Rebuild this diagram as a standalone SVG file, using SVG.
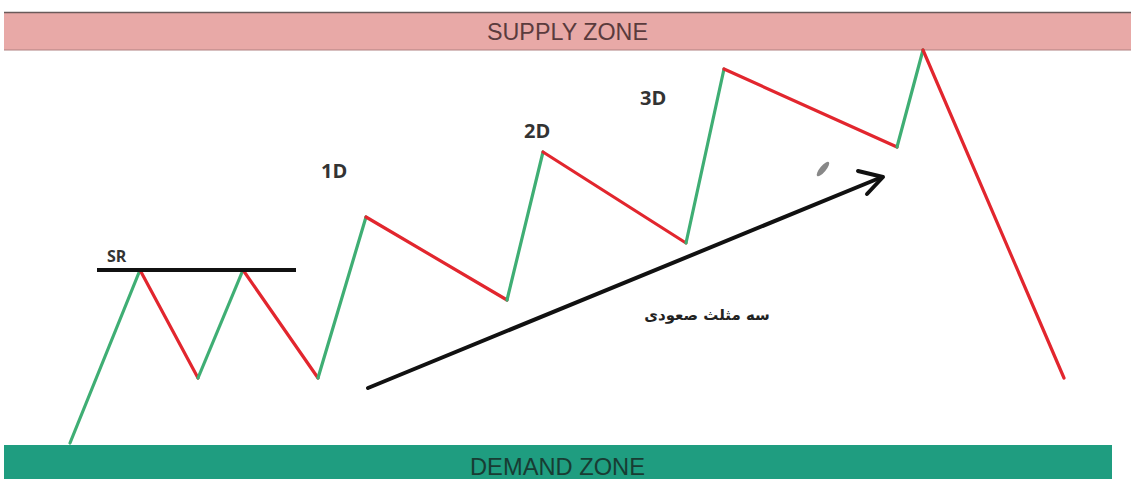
<svg xmlns="http://www.w3.org/2000/svg" width="1131" height="479" viewBox="0 0 1131 479">
<defs>
<style>
.up{stroke:#3fae74;stroke-width:3.2;fill:none;stroke-linecap:round}
.dn{stroke:#e2262e;stroke-width:3.2;fill:none;stroke-linecap:round}
.lbl{font-family:"Open Sans","Liberation Sans",Arial,sans-serif;font-weight:bold;fill:#333}
.zone{font-family:"Liberation Sans",Arial,sans-serif;font-size:23px}
</style>
</defs>
<rect width="1131" height="479" fill="#ffffff"/>
<g id="supply-zone">
<rect x="4" y="12" width="1127" height="38" fill="#e8a9a7"/>
<line x1="4" y1="12.5" x2="1131" y2="12.5" stroke="#6a5a5a" stroke-width="1.5"/>
<line x1="4" y1="50" x2="1131" y2="50" stroke="#b08080" stroke-width="1"/>
<text class="zone" x="487" y="40" textLength="161" lengthAdjust="spacingAndGlyphs" fill="#5a3b3d">SUPPLY ZONE</text>
</g>
<g id="demand-zone">
<rect x="4" y="445" width="1108" height="34" fill="#1f9d80"/>
<text class="zone" x="470" y="475" textLength="175" lengthAdjust="spacingAndGlyphs" fill="#183c33">DEMAND ZONE</text>
</g>
<g id="price-path">
<line class="up" x1="70" y1="443" x2="140" y2="270"/>
<line class="dn" x1="140" y1="270" x2="198" y2="378"/>
<line class="up" x1="198" y1="378" x2="243" y2="270"/>
<line class="dn" x1="243" y1="270" x2="318" y2="378"/>
<line class="up" x1="318" y1="378" x2="366" y2="217"/>
<line class="dn" x1="366" y1="217" x2="507" y2="300"/>
<line class="up" x1="507" y1="300" x2="543" y2="152"/>
<line class="dn" x1="543" y1="152" x2="686" y2="243"/>
<line class="up" x1="686" y1="243" x2="724" y2="69"/>
<line class="dn" x1="724" y1="69" x2="897" y2="147"/>
<line class="up" x1="897" y1="147" x2="923" y2="50"/>
<line class="dn" x1="923" y1="50" x2="1064" y2="378"/>
</g>
<g id="sr">
<line x1="97" y1="270" x2="296" y2="270" stroke="#111" stroke-width="4"/>
<text class="lbl" x="107" y="262" font-size="16">SR</text>
</g>
<g id="labels">
<text class="lbl" x="321" y="178" font-size="20">1D</text>
<text class="lbl" x="524" y="138" font-size="20">2D</text>
<text class="lbl" x="640" y="105" font-size="20">3D</text>
</g>
<g id="connectors">
<line x1="368" y1="388" x2="882" y2="177" stroke="#111" stroke-width="4" stroke-linecap="round"/>
<polyline points="858,171 883,177 867,194" fill="none" stroke="#111" stroke-width="4" stroke-linecap="round" stroke-linejoin="round"/>
</g>
<g id="caption">
<text x="707" y="320" text-anchor="middle" font-family="'DejaVu Sans',sans-serif" font-size="15" font-weight="bold" fill="#222" direction="rtl">سه مثلث صعودی</text>
</g>
<g id="cursor">
<ellipse cx="823" cy="169" rx="3" ry="9" transform="rotate(40 823 169)" fill="#888"/>
</g>
</svg>
